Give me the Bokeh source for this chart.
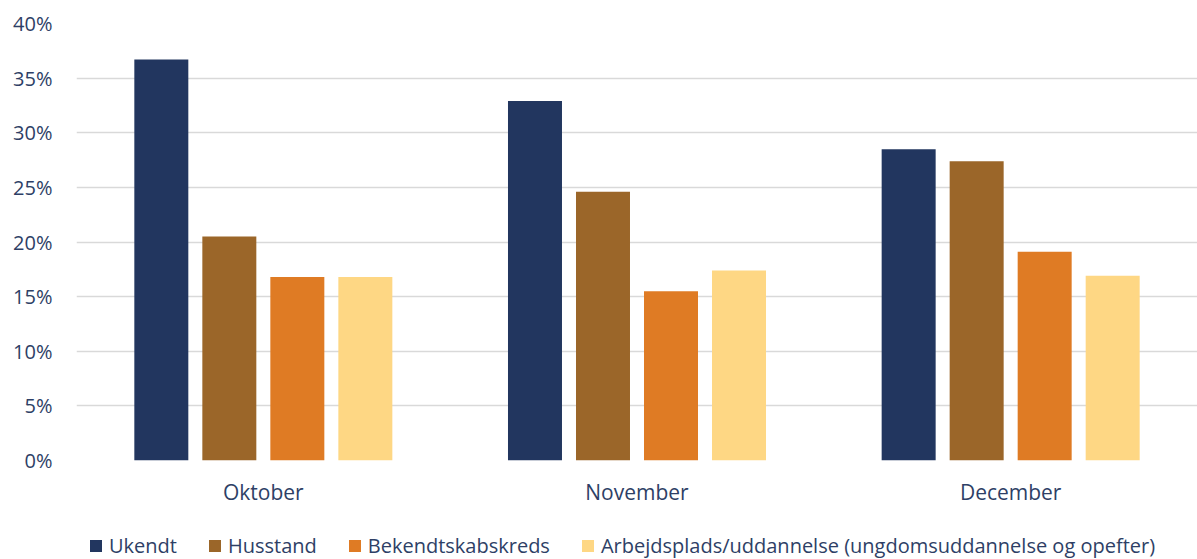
from bokeh.plotting import figure
from bokeh.models import ColumnDataSource, SingleIntervalTicker, Legend, LegendItem, FactorRange
from bokeh.layouts import column
from bokeh.transform import dodge
from bokeh.embed import file_html
from bokeh.resources import INLINE

months = ["Oktober", "November", "December"]
ukendt = [36.7, 32.9, 28.5]
husstand = [20.5, 24.6, 27.4]
bekendt = [16.8, 15.5, 19.1]
arbejd = [16.8, 17.4, 16.9]
series_names = ["Ukendt", "Husstand", "Bekendtskabskreds",
                "Arbejdsplads/uddannelse (ungdomsuddannelse og opefter)"]
colors = ["#22365F", "#9B6629", "#DF7B24", "#FED784"]
y_ticks_max = 40

src = ColumnDataSource(dict(month=months, s0=ukendt, s1=husstand, s2=bekendt, s3=arbejd))

TXT = "#2E3F66"
FONT = "Open Sans"

p = figure(x_range=FactorRange(*months, range_padding=0), y_range=(0, y_ticks_max),
           width=1197, height=520, output_backend="svg", toolbar_location=None,
           min_border_left=76, min_border_right=0, min_border_top=23, min_border_bottom=60)
p.outline_line_color = None
p.background_fill_color = "white"
p.border_fill_color = "white"

offsets = [-0.273, -0.091, 0.091, 0.273]
for i, (off, col) in enumerate(zip(offsets, colors)):
    p.vbar(x=dodge("month", off, range=p.x_range), top="s%d" % i, width=0.1445,
           source=src, fill_color=col, line_color=None)

p.xgrid.grid_line_color = None
p.ygrid.grid_line_color = "#D9D9D9"
p.ygrid.grid_line_width = 1.5
p.yaxis.ticker = SingleIntervalTicker(interval=5)
p.yaxis.major_label_overrides = {v: "%d%%" % v for v in range(0, 45, 5)}
for ax in (p.xaxis[0], p.yaxis[0]):
    ax.axis_line_color = None
    ax.major_tick_line_color = None
    ax.minor_tick_line_color = None
    ax.major_label_text_color = TXT
    ax.major_label_text_font = FONT
    ax.major_label_text_font_size = "20px"
p.xaxis.major_label_text_font_size = "21px"
p.yaxis.major_label_standoff = 18
p.xaxis.major_label_standoff = 11

# legend strip below the chart
lg = figure(width=1197, height=39, x_range=(0, 1), y_range=(0, 1),
            output_backend="svg", toolbar_location=None,
            min_border_left=0, min_border_right=0, min_border_top=0, min_border_bottom=0)
lg.axis.visible = False
lg.grid.grid_line_color = None
lg.outline_line_color = None
items = []
for col, name in zip(colors, series_names):
    r = lg.vbar(x=[-5], top=[-5], width=0.1, fill_color=col, line_color=None)
    items.append(LegendItem(label=name, renderers=[r]))
legend = Legend(items=items, orientation="horizontal", location=(12, 0),
                label_text_font=FONT, label_text_font_size="20px", label_text_color=TXT,
                glyph_width=15, glyph_height=15, label_standoff=6, spacing=30,
                border_line_color=None, background_fill_alpha=0, margin=0, padding=2)
lg.add_layout(legend, "center")

layout = column(p, lg, spacing=0)
open("out.html", "w").write(file_html(layout, INLINE))
